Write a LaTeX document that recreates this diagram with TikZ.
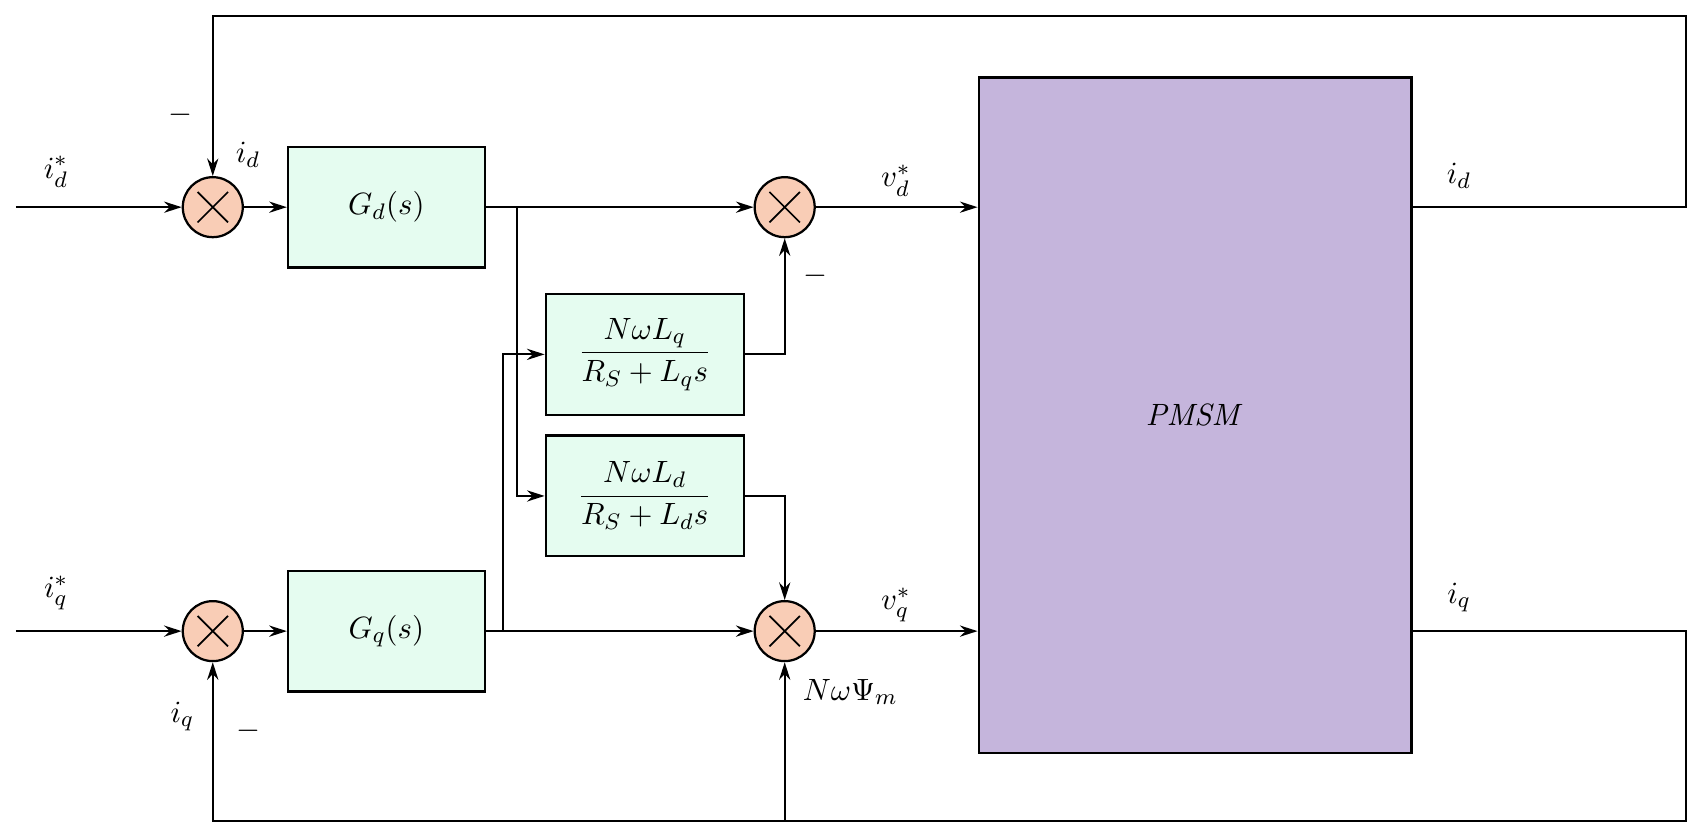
\documentclass[tikz,border=0pt]{standalone}
\usepackage{amsmath,amssymb}
\usepackage{xcolor}
\usetikzlibrary{arrows.meta}
\definecolor{mysalmon}{RGB}{249,205,182}
\definecolor{mymint}{RGB}{229,252,240}
\definecolor{mylilac}{RGB}{197,181,220}
\tikzset{
  block/.style={draw, thick, fill=mymint, minimum width=2.46cm, minimum height=1.51cm, inner sep=0pt},
  sumnode/.style={draw, thick, circle, fill=mysalmon, minimum size=0.75cm, inner sep=0pt,
    path picture={\draw[semithick] ([shift={(-0.19,-0.19)}]path picture bounding box.center) -- ([shift={(0.19,0.19)}]path picture bounding box.center);
                  \draw[semithick] ([shift={(-0.19,0.19)}]path picture bounding box.center) -- ([shift={(0.19,-0.19)}]path picture bounding box.center);}},
  sig/.style={line width=0.7pt, -{Stealth[length=2.2mm, width=1.4mm]}}
}

\begin{document}
\begin{tikzpicture}[font=\fontsize{10.8}{13}\selectfont]
\useasboundingbox (0,0) rectangle (21.29,10.5);
% summing points
\node[sumnode] (sumd) at (2.66,7.91) {};
\node[sumnode] (sumq) at (2.66,2.61) {};
\node[sumnode] (vd) at (9.81,7.91) {};
\node[sumnode] (vq) at (9.81,2.61) {};
% blocks
\node[block] (Gd) at (4.83,7.91) {$G_d(s)$};
\node[block] (Gq) at (4.83,2.61) {$G_q(s)$};
\node[block, minimum width=2.475cm] (Lq) at (8.06,6.07) {$\dfrac{N\omega L_q}{R_S+L_q s}$};
\node[block, minimum width=2.475cm] (Ld) at (8.06,4.30) {$\dfrac{N\omega L_d}{R_S+L_d s}$};
\node[draw, thick, fill=mylilac, minimum width=5.41cm, minimum height=8.44cm] (PMSM) at (14.94,5.31) {$\mathit{PMSM}$};
% ends and bends
\coordinate (idin) at (0.2,7.91);
\coordinate (iqin) at (0.2,2.61);
\coordinate (bd) at (6.46,7.91);
\coordinate (bq) at (6.29,2.61);
\coordinate (fd) at (21.08,10.3);
\coordinate (fq) at (21.08,0.24);
% forward paths
\draw[sig] (idin) -- (sumd);
\draw[sig] (sumd) -- (Gd);
\draw[sig] (Gd) -- (vd);
\draw[sig] (vd) -- (vd -| PMSM.west);
\draw[sig] (iqin) -- (sumq);
\draw[sig] (sumq) -- (Gq);
\draw[sig] (Gq) -- (vq);
\draw[sig] (vq) -- (vq -| PMSM.west);
% decoupling
\draw[sig] (bd) |- (Ld.west);
\draw[sig] (bq) |- (Lq.west);
\draw[sig] (Lq.east) -| (vd.south);
\draw[sig] (Ld.east) -| (vq.north);
% feedback
\draw[sig] (sumd -| PMSM.east) -| (fd) -| (sumd.north);
\draw[sig] (sumq -| PMSM.east) -| (fq) -| (sumq.south);
\draw[sig] (vq |- fq) -- (vq.south);
% labels
\node (lidref) at (0.70,8.35) {$i_d^*$};
\node (lminus1) at (2.26,9.06) {$-$};
\node (lid1) at (3.10,8.56) {$i_d$};
\node (lvd) at (11.2,8.24) {$v_d^*$};
\node (lminus2) at (10.2,7.05) {$-$};
\node (lid2) at (18.24,8.30) {$i_d$};
\node (liqref) at (0.70,3.09) {$i_q^*$};
\node (liq1) at (2.28,1.54) {$i_q$};
\node (lminus3) at (3.10,1.36) {$-$};
\node (lvq) at (11.2,2.94) {$v_q^*$};
\node (lpsi) at (10.63,1.85) {$N\omega\Psi_m$};
\node (liq2) at (18.24,3.03) {$i_q$};
\end{tikzpicture}
\end{document}
